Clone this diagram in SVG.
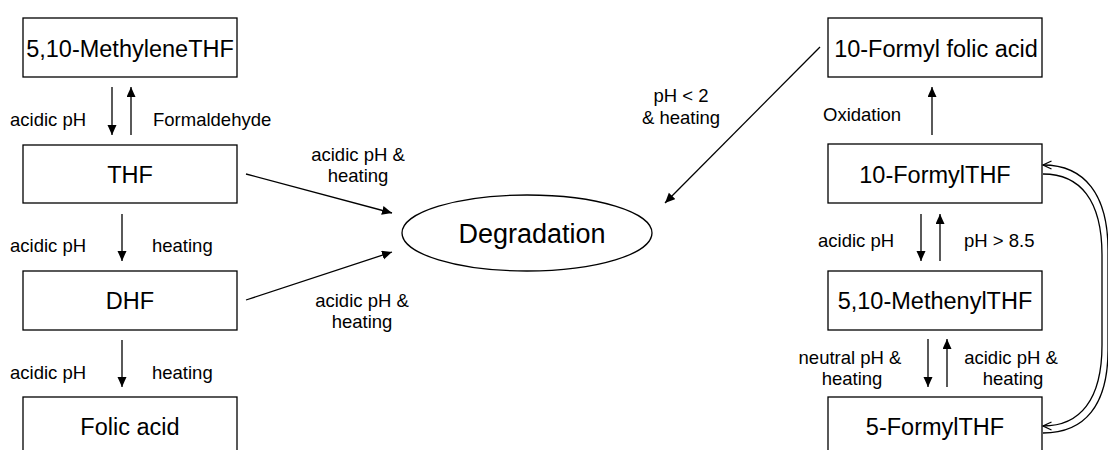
<svg xmlns="http://www.w3.org/2000/svg" width="1108" height="450" viewBox="0 0 1108 450">
  <defs>
    <style>
      .box { fill: #ffffff; stroke: #000000; stroke-width: 1.3; }
      .node-text { font-family: "Liberation Sans", Arial, sans-serif; font-size: 23.5px; fill: #000000; text-anchor: middle; }
      .big-text { font-family: "Liberation Sans", Arial, sans-serif; font-size: 27px; fill: #000000; text-anchor: middle; }
      .label { font-family: "Liberation Sans", Arial, sans-serif; font-size: 18.5px; fill: #000000; }
      .mid { text-anchor: middle; }
      .edge { fill: none; stroke: #000000; stroke-width: 1.3; }
      .solid { marker-end: url(#head); }
      .curved { marker-end: url(#openhead); }
    </style>
    <marker id="head" markerUnits="userSpaceOnUse" markerWidth="11" markerHeight="10" refX="10" refY="4.5" orient="auto">
      <path d="M0,0 L10,4.5 L0,9 z" fill="#000000"/>
    </marker>
    <marker id="openhead" markerUnits="userSpaceOnUse" markerWidth="12" markerHeight="12" refX="9.5" refY="5" orient="auto">
      <path d="M1,1 L9.5,5 L1,9" fill="none" stroke="#000000" stroke-width="1.3"/>
    </marker>
  </defs>

  <rect width="1108" height="450" fill="#ffffff"/>

  <!-- left column -->
  <g id="methylene-thf">
    <rect class="box" x="23" y="18" width="214" height="59"/>
    <text class="node-text" x="130" y="56.5">5,10-MethyleneTHF</text>
  </g>
  <g id="thf">
    <rect class="box" x="23" y="145" width="214" height="58"/>
    <text class="node-text" x="130" y="183">THF</text>
  </g>
  <g id="dhf">
    <rect class="box" x="23" y="271" width="214" height="59"/>
    <text class="node-text" x="130" y="308.5">DHF</text>
  </g>
  <g id="folic-acid">
    <rect class="box" x="23" y="397" width="214" height="60"/>
    <text class="node-text" x="130" y="435">Folic acid</text>
  </g>

  <!-- centre -->
  <g id="degradation">
    <ellipse class="box" cx="527" cy="233" rx="125" ry="38"/>
    <text class="big-text" x="532" y="243">Degradation</text>
  </g>

  <!-- right column -->
  <g id="formyl-folic-acid">
    <rect class="box" x="828" y="18" width="214" height="59"/>
    <text class="node-text" x="936" y="56.5">10-Formyl folic acid</text>
  </g>
  <g id="formyl-thf-10">
    <rect class="box" x="828" y="144" width="214" height="59"/>
    <text class="node-text" x="935" y="183">10-FormylTHF</text>
  </g>
  <g id="methenyl-thf">
    <rect class="box" x="828" y="271" width="214" height="59"/>
    <text class="node-text" x="935" y="308.5">5,10-MethenylTHF</text>
  </g>
  <g id="formyl-thf-5">
    <rect class="box" x="828" y="397" width="214" height="60"/>
    <text class="node-text" x="935" y="435">5-FormylTHF</text>
  </g>

  <!-- connectors -->
  <g id="connectors">
    <line class="edge solid" x1="112" y1="87" x2="112" y2="135"/>
    <line class="edge solid" x1="131" y1="135" x2="131" y2="87"/>
    <line class="edge solid" x1="122" y1="214" x2="122" y2="261"/>
    <line class="edge solid" x1="122" y1="340" x2="122" y2="387"/>
    <line class="edge solid" x1="246" y1="174" x2="392" y2="213"/>
    <line class="edge solid" x1="246" y1="300" x2="392" y2="252"/>
    <line class="edge solid" x1="820" y1="47" x2="665" y2="203"/>
    <line class="edge solid" x1="932" y1="135" x2="932" y2="87"/>
    <line class="edge solid" x1="921" y1="214" x2="921" y2="261"/>
    <line class="edge solid" x1="940" y1="261" x2="940" y2="214"/>
    <line class="edge solid" x1="928" y1="339" x2="928" y2="387"/>
    <line class="edge solid" x1="947" y1="387" x2="947" y2="339"/>
    <path class="edge curved" d="M1043,433 C1085,433 1108,405 1108,350 L1108,250 C1108,195 1085,165 1043,165"/>
    <path class="edge curved" d="M1043,174 C1080,174 1102,200 1102,255 L1102,345 C1102,400 1080,426 1043,426"/>
  </g>

  <!-- reaction conditions -->
  <g id="labels">
    <text class="label" x="10" y="126">acidic pH</text>
    <text class="label" x="153" y="126">Formaldehyde</text>
    <text class="label" x="10" y="252">acidic pH</text>
    <text class="label" x="152" y="252">heating</text>
    <text class="label" x="10" y="379">acidic pH</text>
    <text class="label" x="152" y="379">heating</text>
    <text class="label mid" x="358" y="161">acidic pH &amp;</text>
    <text class="label mid" x="358" y="182">heating</text>
    <text class="label mid" x="362" y="307">acidic pH &amp;</text>
    <text class="label mid" x="362" y="328">heating</text>
    <text class="label mid" x="681" y="102">pH &lt; 2</text>
    <text class="label mid" x="681" y="124">&amp; heating</text>
    <text class="label" x="823" y="121">Oxidation</text>
    <text class="label" x="818" y="247">acidic pH</text>
    <text class="label" x="964" y="247">pH &gt; 8.5</text>
    <text class="label mid" x="850" y="364">neutral pH &amp;</text>
    <text class="label mid" x="852" y="385">heating</text>
    <text class="label mid" x="1011" y="364">acidic pH &amp;</text>
    <text class="label mid" x="1013" y="385">heating</text>
  </g>
</svg>
